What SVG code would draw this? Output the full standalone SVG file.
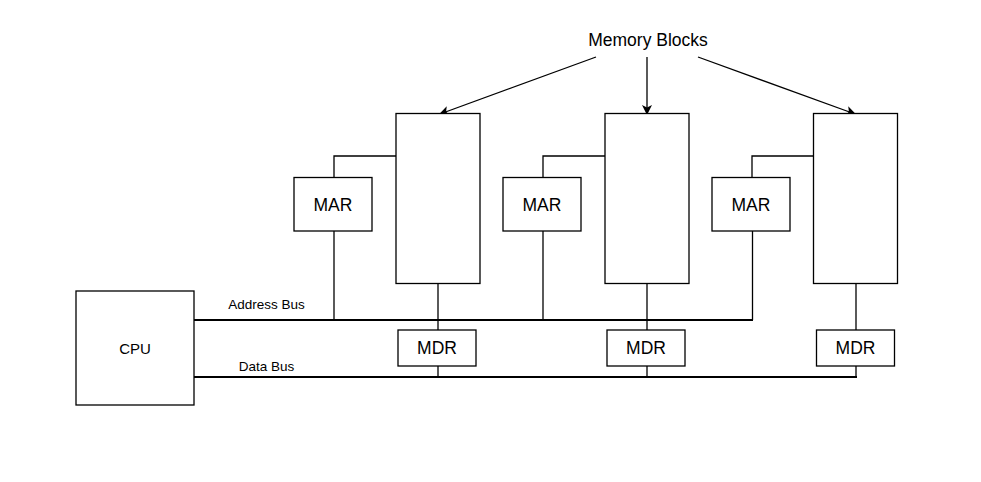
<svg xmlns="http://www.w3.org/2000/svg" width="981" height="482" viewBox="0 0 981 482">
<style>
.box{fill:#fff;stroke:#000;stroke-width:1.3}
.ln{fill:none;stroke:#000;stroke-width:1.3}
.bus{fill:none;stroke:#000;stroke-width:2}
.t{font-family:"Liberation Sans",Arial,sans-serif;fill:#000;text-anchor:middle}
.big{font-size:17.5px}
.sm{font-size:13.5px}
</style>
<defs>
<marker id="arr" viewBox="0 0 10 10" refX="9" refY="5" markerWidth="10" markerHeight="10" markerUnits="userSpaceOnUse" orient="auto">
<path d="M0,0 L10,5 L0,10 L2.5,5 Z" fill="#000"/>
</marker>
</defs>
<g id="connectors">
<path class="ln" d="M596,57 L440,114" marker-end="url(#arr)"/>
<path class="ln" d="M647,57 L647,114" marker-end="url(#arr)"/>
<path class="ln" d="M698,57 L855,114" marker-end="url(#arr)"/>
<path class="ln" d="M334,177 V156 H396"/>
<path class="ln" d="M543,177 V156 H605"/>
<path class="ln" d="M752,177 V156 H813"/>
<path class="ln" d="M334,231 V320"/>
<path class="ln" d="M543,231 V320"/>
<path class="ln" d="M752.5,231 V320"/>
<path class="ln" d="M438,284 V330"/>
<path class="ln" d="M647,284 V330"/>
<path class="ln" d="M856,284 V330"/>
<path class="ln" d="M438,366 V377"/>
<path class="ln" d="M647,366 V377"/>
<path class="ln" d="M856,366 V377"/>
<path class="bus" d="M194,320 H753"/>
<path class="bus" d="M194,377 H857"/>
<text class="t sm" x="266.5" y="309">Address Bus</text>
<text class="t sm" x="266.5" y="371">Data Bus</text>
</g>
<g id="memory-blocks-label"><text class="t big" x="648" y="46">Memory Blocks</text></g>
<g id="cpu"><rect class="box" x="76" y="291" width="118" height="114"/><text class="t" x="135" y="354" font-size="15">CPU</text></g>
<g id="mem1"><rect class="box" x="396" y="113.5" width="84" height="170"/></g>
<g id="mem2"><rect class="box" x="605" y="113.5" width="84" height="170"/></g>
<g id="mem3"><rect class="box" x="813.5" y="113.5" width="84" height="170"/></g>
<g id="mar1"><rect class="box" x="294" y="177.5" width="78" height="53.5"/><text class="t big" x="333" y="211">MAR</text></g>
<g id="mar2"><rect class="box" x="503" y="177.5" width="78" height="53.5"/><text class="t big" x="542" y="211">MAR</text></g>
<g id="mar3"><rect class="box" x="712" y="177.5" width="78" height="53.5"/><text class="t big" x="751" y="211">MAR</text></g>
<g id="mdr1"><rect class="box" x="398" y="330" width="78" height="36"/><text class="t big" x="437" y="354">MDR</text></g>
<g id="mdr2"><rect class="box" x="607" y="330" width="78" height="36"/><text class="t big" x="646" y="354">MDR</text></g>
<g id="mdr3"><rect class="box" x="816.5" y="330" width="78" height="36"/><text class="t big" x="855.5" y="354">MDR</text></g>
</svg>
